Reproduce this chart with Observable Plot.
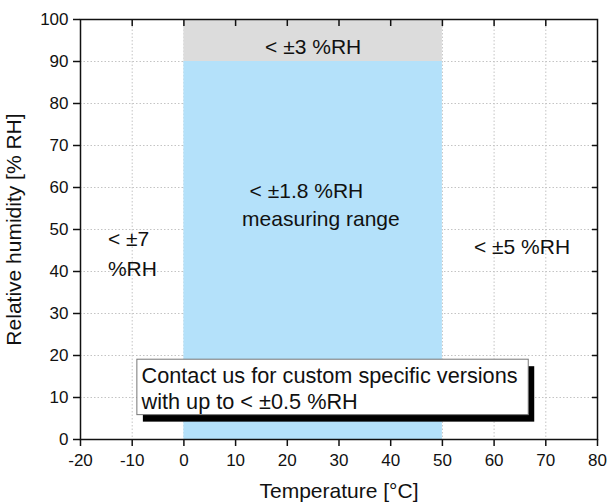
<!DOCTYPE html>
<html><head><meta charset="utf-8">
<script src="https://cdn.jsdelivr.net/npm/d3@7"></script>
<script src="https://cdn.jsdelivr.net/npm/@observablehq/plot@0.6"></script>
<style>body{margin:0;background:#fff}</style>
</head><body><div id="chart"></div>
<script>
// Axis ticks
const xTicks = [-20, -10, 0, 10, 20, 30, 40, 50, 60, 70, 80];
const yTicks = [0, 10, 20, 30, 40, 50, 60, 70, 80, 90, 100];
const xInner = [-10, 0, 10, 20, 30, 40, 50, 60, 70];
const yInner = [10, 20, 30, 40, 50, 60, 70, 80, 90];

// Accuracy zones (temperature °C, humidity %RH)
const zoneNames = ["measuring range", "high humidity"];
const zoneT1 = [0, 0];
const zoneT2 = [50, 50];
const zoneH1 = [0, 90];
const zoneH2 = [90, 100];

// Zone annotations
const centerLabels = ["< ±3 %RH", "< ±1.8 %RH", "measuring range", "< ±5 %RH"];
const centerT = [25, 23.7, 26.5, 65.4];
const centerH = [91.9, 57.5, 50.9, 44.2];
const leftLabels = ["< ±7", "%RH"];
const leftT = [-14.7, -14.7];
const leftH = [46.1, 39.0];

// Note box
const noteLines = ["Contact us for custom specific versions", "with up to < ±0.5 %RH"];
const noteT = [-8.2, -8.2];
const noteH = [13.5, 7.3];
const noteBoxT = [-9, 66.7];
const noteBoxH = [5.8, 19];

const xTitle = "Temperature [°C]";
const yTitle = "Relative humidity [% RH]";

const zones = zoneNames.map((n, i) => ({name: n, x1: zoneT1[i], x2: zoneT2[i], y1: zoneH1[i], y2: zoneH2[i]}));
const centers = centerLabels.map((t, i) => ({t, x: centerT[i], y: centerH[i]}));
const lefts = leftLabels.map((t, i) => ({t, x: leftT[i], y: leftH[i]}));
const notes = noteLines.map((t, i) => ({t, x: noteT[i], y: noteH[i]}));
const box = [{x1: noteBoxT[0], x2: noteBoxT[1], y1: noteBoxH[0], y2: noteBoxH[1]}];

const ink = "#111";
const fmt = d => String(d);
const chart = Plot.plot({
  width: 608,
  height: 503,
  marginLeft: 80,
  marginRight: 11,
  marginTop: 19,
  marginBottom: 64,
  style: {fontFamily: "'Liberation Sans', Arial, sans-serif", fontSize: "17px", color: ink, background: "#fff"},
  x: {domain: [-20, 80]},
  y: {domain: [0, 100]},
  marks: [
    Plot.gridX(xInner, {stroke: "#c4c4c4", strokeOpacity: 1, strokeDasharray: "1.5,2"}),
    Plot.gridY(yInner, {stroke: "#c4c4c4", strokeOpacity: 1, strokeDasharray: "1.5,2"}),
    Plot.rect(zones.filter(d => d.name === "measuring range"), {x1: "x1", x2: "x2", y1: "y1", y2: "y2", fill: "#b4e1fa"}),
    Plot.rect(zones.filter(d => d.name === "high humidity"), {x1: "x1", x2: "x2", y1: "y1", y2: "y2", fill: "#dcdcdc"}),
    Plot.text(centers, {x: "x", y: "y", text: "t", textAnchor: "middle", lineAnchor: "bottom", fontSize: 21, fill: ink}),
    Plot.text(lefts, {x: "x", y: "y", text: "t", textAnchor: "start", lineAnchor: "bottom", fontSize: 21, fill: ink}),
    Plot.rect(box, {x1: "x1", x2: "x2", y1: "y1", y2: "y2", fill: "#000", dx: 6, dy: 7}),
    Plot.rect(box, {x1: "x1", x2: "x2", y1: "y1", y2: "y2", fill: "#fff", stroke: "#777", strokeWidth: 1}),
    Plot.text(notes, {x: "x", y: "y", text: "t", textAnchor: "start", lineAnchor: "bottom", fontSize: 21.7, fill: ink}),
    Plot.axisX(xTicks, {anchor: "bottom", tickSize: 7, tickPadding: 7, strokeWidth: 1.5, label: null, fontSize: 17, tickFormat: fmt}),
    Plot.axisY(yTicks, {anchor: "left", tickSize: 7, tickPadding: 5, strokeWidth: 1.5, label: null, fontSize: 17, tickFormat: fmt}),
    Plot.axisX(xInner, {anchor: "top", tickSize: 6, dy: 6, strokeWidth: 1.5, tickFormat: () => "", label: null}),
    Plot.axisY(yInner, {anchor: "right", tickSize: 6, dx: -6, strokeWidth: 1.5, tickFormat: () => "", label: null}),
    Plot.frame({stroke: ink, strokeWidth: 1.5}),
    Plot.text([xTitle], {frameAnchor: "bottom", dy: 58.5, textAnchor: "middle", lineAnchor: "bottom", fontSize: 21, fill: ink}),
    Plot.text([yTitle], {frameAnchor: "left", dx: -66.5, rotate: -90, textAnchor: "middle", lineAnchor: "middle", fontSize: 21, fill: ink})
  ]
});
document.getElementById("chart").appendChild(chart);
</script>
</body></html>
